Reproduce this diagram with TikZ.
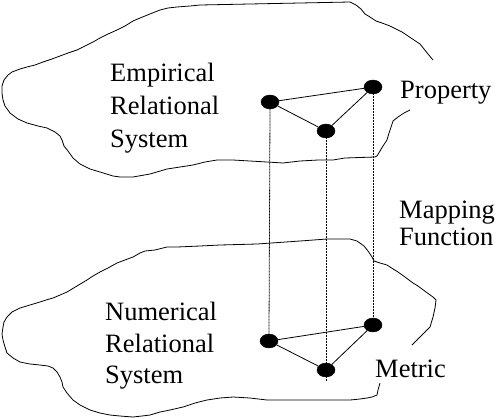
\documentclass[tikz,border=0pt]{standalone}
\usepackage{fontspec}
\setmainfont{Liberation Serif}
\usetikzlibrary{shapes.geometric}
\begin{document}
\begin{tikzpicture}[x=1pt,y=-1pt,
  blob/.style={line width=0.8pt,line join=round},
  dot/.style={ellipse,fill=black,draw=black,minimum width=18pt,minimum height=14pt,inner sep=0pt},
  link/.style={line width=0.8pt},
  proj/.style={line width=0.8pt,dash pattern=on 0.8pt off 0.7pt},
  lbl/.style={anchor=base west,inner sep=0pt,font=\fontsize{26.5}{30}\selectfont}]
\useasboundingbox (0,0) rectangle (500,418);
% top blob
\draw[blob] (410,110) -- (404,113) -- (398,117) -- (393,121) -- (391,127) -- (389,133) -- (387,140) -- (383,146) -- (380,151) -- (377,156) -- (375,157) -- (360,157.5) -- (345,158) -- (333,160) -- (318,160) -- (300,161) -- (283,163) -- (267,162) -- (250,161) -- (233,160) -- (217,160) -- (205,162) -- (193,165) -- (180,167) -- (167,169) -- (150,174) -- (133,177) -- (120,177) -- (113,176) -- (100,172) -- (90,169) -- (80,164) -- (73,158) -- (68,151) -- (64,146) -- (62,140) -- (60,136) -- (55,132) -- (47,128) -- (38,126) -- (27,123) -- (18,119) -- (10,113) -- (5,106) -- (3,100) -- (2,93) -- (2,86) -- (4,80) -- (8,75) -- (12,72) -- (20,69) -- (27,67) -- (35,65) -- (43,62) -- (52,59) -- (60,56) -- (68,53) -- (77,50) -- (85,46) -- (93,42) -- (100,38) -- (108,34) -- (117,30) -- (125,26) -- (133,21) -- (140,18) -- (150,14) -- (160,10) -- (168,8) -- (177,7) -- (190,6) -- (200,5) -- (250,4) -- (300,3) -- (350,2) -- (356,5) -- (361,9) -- (365,14) -- (370,17) -- (376,21) -- (382,23) -- (390,26) -- (396,29) -- (402,32) -- (408,36) -- (414,40) -- (420,44) -- (424,49) -- (428,54) -- (433,60);
% bottom blob
\draw[blob] (412,345) -- (418,339) -- (424,333) -- (430,327) -- (433,317) -- (435,308) -- (436,300) -- (433,297) -- (426,292) -- (418,286) -- (413,283) -- (405,277) -- (398,272) -- (390,267) -- (387,265) -- (380,263) -- (374,261) -- (372,257) -- (368,251) -- (364,246) -- (357,241) -- (350,239) -- (340,239) -- (327,239) -- (300,241) -- (257,244) -- (220,245) -- (200,246) -- (177,247) -- (167,247) -- (155,250) -- (145,251) -- (140,253) -- (133,257) -- (125,260) -- (117,263) -- (108,268) -- (100,272) -- (93,276) -- (87,280) -- (77,286) -- (67,292) -- (60,295) -- (53,298) -- (46,300) -- (40,302) -- (30,305) -- (20,308) -- (12,312) -- (7,317) -- (4,322) -- (3,327) -- (2,334) -- (3,340) -- (5,347) -- (7,353) -- (13,358) -- (20,362) -- (30,364) -- (40,365) -- (48,366) -- (53,368) -- (57,372) -- (60,377) -- (62,382) -- (63,387) -- (67,393) -- (73,400) -- (80,405) -- (90,410) -- (100,413) -- (110,415) -- (120,416) -- (133,417) -- (142,416) -- (150,415) -- (160,412) -- (170,410) -- (183,407) -- (195,403) -- (207,400) -- (220,398) -- (233,397) -- (250,398) -- (267,400) -- (283,400) -- (300,400) -- (320,400) -- (350,400) -- (360,399) -- (367,398) -- (372,397) -- (377,395) -- (378,390) -- (380,383);
% points
\node[dot] (ea) at (270,102) {};
\node[dot] (eb) at (373,87) {};
\node[dot] (ec) at (326,131) {};
\node[dot] (na) at (269,341) {};
\node[dot] (nb) at (373,325) {};
\node[dot] (nc) at (326,370) {};
\coordinate (ncend) at (326,381);
% relations
\draw[link] (ea) -- (eb);
\draw[link] (ea) -- (ec);
\draw[link] (ec) -- (eb);
\draw[link] (na) -- (nb);
\draw[link] (na) -- (nc);
\draw[link] (nc) -- (nb);
% mapping
\draw[proj] (ea.south) -- (na.north);
\draw[proj] (ec.south) -- (nc.north);
\draw[proj] (nc.south) -- (ncend);
\draw[proj] (eb.south) -- (nb.north);
% labels
\node[lbl] (emp1) at (110,81) {Empirical};
\node[lbl] (emp2) at (110,114) {Relational};
\node[lbl] (emp3) at (110,147) {System};
\node[lbl] (prop) at (400,98) {Property};
\node[lbl] (map1) at (399,218) {Mapping};
\node[lbl] (map2) at (399,245) {Function};
\node[lbl] (num1) at (105,320) {Numerical};
\node[lbl] (num2) at (105,352) {Relational};
\node[lbl] (num3) at (105,383) {System};
\node[lbl] (met) at (375,377) {Metric};
\end{tikzpicture}
\end{document}
